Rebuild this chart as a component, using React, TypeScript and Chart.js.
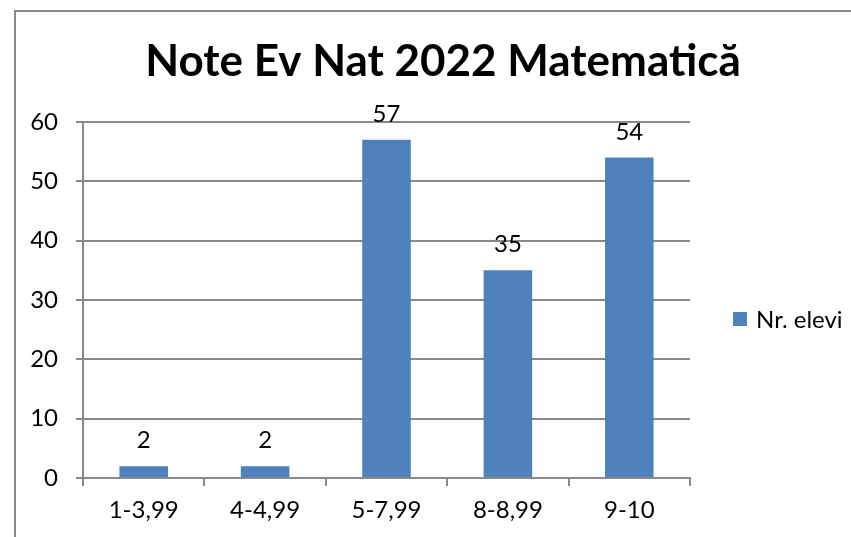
import React, { useEffect, useRef } from "react";
import { Chart, registerables } from "chart.js";

Chart.register(...registerables);

const categories = ["1-3,99", "4-4,99", "5-7,99", "8-8,99", "9-10"];
const nrElevi = [2, 2, 57, 35, 54];
const seriesLabel = "Nr. elevi";
const titleText = "Note Ev Nat 2022 Matematică";
const yMin = 0;
const yMax = 60;
const yStep = 10;

const FONT = "Lato, 'Open Sans', sans-serif";
const BAR = "#4F81BD";
const GRID = "#898989";
const FS = 24;

const decor = {
  id: "decor",
  beforeDraw(chart: any) {
    const ctx = chart.ctx;
    ctx.save();
    ctx.fillStyle = "#ffffff";
    ctx.fillRect(0, 0, chart.width, chart.height);
    ctx.strokeStyle = GRID;
    ctx.lineWidth = 2;
    ctx.beginPath();
    ctx.moveTo(15, chart.height + 5);
    ctx.lineTo(15, 11);
    ctx.lineTo(chart.width + 5, 11);
    ctx.stroke();
    ctx.restore();
  },
  afterDatasetsDraw(chart: any) {
    const ctx = chart.ctx;
    const meta = chart.getDatasetMeta(0);
    ctx.save();
    ctx.fillStyle = "#000";
    ctx.font = `${FS}px ${FONT}`;
    ctx.textAlign = "center";
    ctx.textBaseline = "alphabetic";
    meta.data.forEach((bar: any, i: number) => {
      ctx.fillText(String(nrElevi[i]), bar.x, bar.y - 18);
    });
    ctx.restore();
  },
  afterDraw(chart: any) {
    const ctx = chart.ctx;
    ctx.save();
    ctx.fillStyle = "#000";
    ctx.font = `bold 44px ${FONT}`;
    ctx.textAlign = "center";
    ctx.textBaseline = "alphabetic";
    ctx.fillText(titleText, 443, 76);
    // legend
    ctx.fillStyle = BAR;
    ctx.fillRect(733, 312, 14, 14);
    ctx.fillStyle = "#000";
    ctx.font = `${FS}px ${FONT}`;
    ctx.textAlign = "left";
    ctx.textBaseline = "middle";
    ctx.fillText(seriesLabel, 756, 320);
    ctx.restore();
  },
};

export default function App() {
  const ref = useRef<HTMLCanvasElement>(null);
  useEffect(() => {
    document.documentElement.style.overflow = "hidden";
    document.body.style.overflow = "hidden";
    document.body.style.margin = "0";
    if (!ref.current) return;
    const chart = new Chart(ref.current, {
      type: "bar",
      data: {
        labels: categories,
        datasets: [
          {
            label: seriesLabel,
            data: nrElevi,
            backgroundColor: BAR,
            categoryPercentage: 1,
            barPercentage: 0.4,
          },
        ],
      },
      options: {
        responsive: false,
        animation: false,
        devicePixelRatio: 1,
        layout: { padding: { top: 122, right: 161, bottom: 0, left: 0 } },
        plugins: {
          legend: { display: false },
          title: { display: false },
          tooltip: { enabled: false },
        },
        scales: {
          x: {
            offset: true,
            grid: {
              offset: true,
              drawOnChartArea: false,
              drawTicks: true,
              tickLength: 8,
              color: GRID,
              lineWidth: 2,
            },
            border: { display: true, color: GRID, width: 2 },
            ticks: {
              color: "#000",
              font: { family: FONT, size: FS },
              padding: 10,
              maxRotation: 0,
            },
            afterFit: (s: any) => {
              s.height = 59;
            },
          },
          y: {
            min: yMin,
            max: yMax,
            ticks: {
              stepSize: yStep,
              color: "#000",
              font: { family: FONT, size: FS },
              padding: 18,
            },
            grid: {
              color: GRID,
              lineWidth: 2,
              drawTicks: true,
              tickLength: 7,
            },
            border: { display: true, color: GRID, width: 2 },
            afterFit: (s: any) => {
              s.width = 83;
            },
          },
        },
      },
      plugins: [decor],
    });
    return () => chart.destroy();
  }, []);
  return (
    <div style={{ position: "fixed", left: 0, top: 0, width: 851, height: 537, background: "#fff" }}>
      <canvas ref={ref} width={851} height={537} style={{ display: "block" }} />
    </div>
  );
}
